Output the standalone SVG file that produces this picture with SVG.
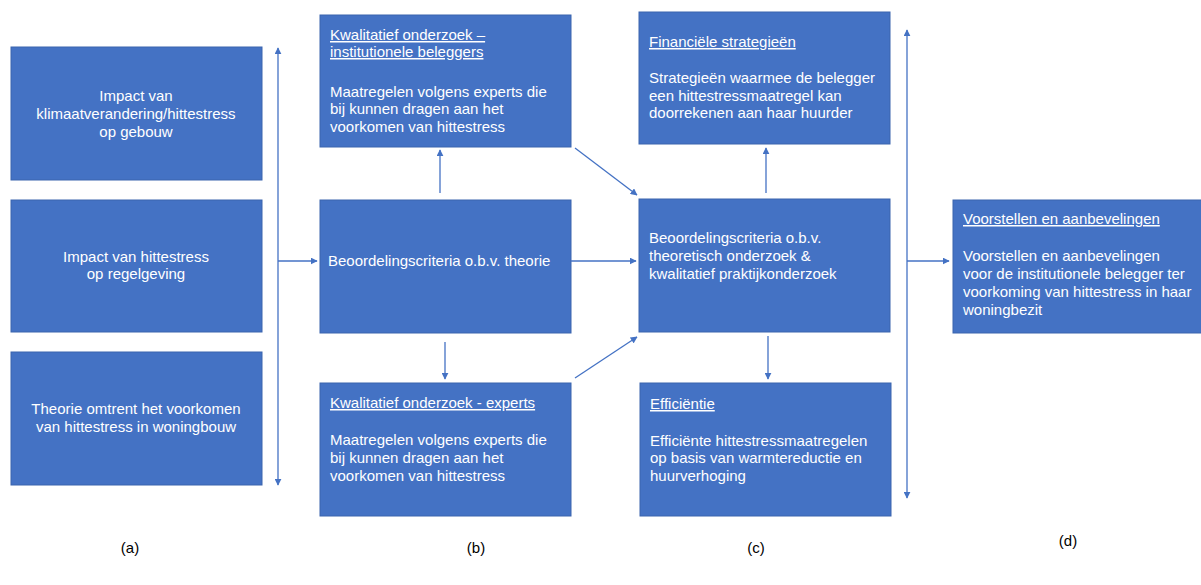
<svg xmlns="http://www.w3.org/2000/svg" width="1201" height="585" viewBox="0 0 1201 585">
<style>
.box{fill:#4472C4;stroke:#3A64AE;stroke-width:1}
.t{font-family:"Liberation Sans",Arial,sans-serif;font-size:15px;fill:#ffffff}
.c{text-anchor:middle}
.u{text-decoration:underline}
.ln{stroke:#4472C4;stroke-width:1.3;fill:none}
.lab{font-family:"Liberation Sans",Arial,sans-serif;font-size:15px;fill:#000000;text-anchor:middle}
</style>
<defs>
<marker id="ah" viewBox="0 0 10 10" refX="9" refY="5" markerWidth="7" markerHeight="7" orient="auto-start-reverse" markerUnits="userSpaceOnUse">
<path d="M0,0 L10,5 L0,10 z" fill="#4472C4"/>
</marker>
</defs>
<rect width="1201" height="585" fill="#ffffff"/>
<g id="a1">
<rect class="box" x="11" y="47" width="251" height="133"/>
<text class="t c" x="136" y="101">Impact van</text>
<text class="t c" x="136" y="119">klimaatverandering/hittestress</text>
<text class="t c" x="136" y="137">op gebouw</text>
</g>
<g id="a2">
<rect class="box" x="11" y="200" width="251" height="132"/>
<text class="t c" x="136" y="262">Impact van hittestress</text>
<text class="t c" x="136" y="279">op regelgeving</text>
</g>
<g id="a3">
<rect class="box" x="11" y="352" width="251" height="133"/>
<text class="t c" x="136" y="414">Theorie omtrent het voorkomen</text>
<text class="t c" x="136" y="432">van hittestress in woningbouw</text>
</g>
<g id="b1">
<rect class="box" x="320" y="15" width="251" height="132"/>
<text class="t u" x="330" y="40">Kwalitatief onderzoek –</text>
<text class="t u" x="330" y="57">institutionele beleggers</text>
<text class="t" x="330" y="97">Maatregelen volgens experts die</text>
<text class="t" x="330" y="114">bij kunnen dragen aan het</text>
<text class="t" x="330" y="132">voorkomen van hittestress</text>
</g>
<g id="b2">
<rect class="box" x="320" y="200" width="251" height="133"/>
<text class="t" x="328" y="266">Beoordelingscriteria o.b.v. theorie</text>
</g>
<g id="b3">
<rect class="box" x="320" y="383" width="251" height="133"/>
<text class="t u" x="330" y="408">Kwalitatief onderzoek - experts</text>
<text class="t" x="330" y="445">Maatregelen volgens experts die</text>
<text class="t" x="330" y="463">bij kunnen dragen aan het</text>
<text class="t" x="330" y="481">voorkomen van hittestress</text>
</g>
<g id="c1">
<rect class="box" x="639" y="12" width="251" height="132"/>
<text class="t u" x="649" y="47">Financiële strategieën</text>
<text class="t" x="649" y="83">Strategieën waarmee de belegger</text>
<text class="t" x="649" y="101">een hittestressmaatregel kan</text>
<text class="t" x="649" y="118">doorrekenen aan haar huurder</text>
</g>
<g id="c2">
<rect class="box" x="639" y="199" width="251" height="133"/>
<text class="t" x="649" y="243">Beoordelingscriteria o.b.v.</text>
<text class="t" x="649" y="261">theoretisch onderzoek &amp;</text>
<text class="t" x="649" y="279">kwalitatief praktijkonderzoek</text>
</g>
<g id="c3">
<rect class="box" x="640" y="383" width="251" height="133"/>
<text class="t u" x="650" y="409">Efficiëntie</text>
<text class="t" x="650" y="446">Efficiënte hittestressmaatregelen</text>
<text class="t" x="650" y="463">op basis van warmtereductie en</text>
<text class="t" x="650" y="481">huurverhoging</text>
</g>
<g id="d1">
<rect class="box" x="953" y="200" width="251" height="133"/>
<text class="t u" x="963" y="224">Voorstellen en aanbevelingen</text>
<text class="t" x="963" y="261">Voorstellen en aanbevelingen</text>
<text class="t" x="963" y="279">voor de institutionele belegger ter</text>
<text class="t" x="963" y="297">voorkoming van hittestress in haar</text>
<text class="t" x="963" y="315">woningbezit</text>
</g>
<g id="connectors">
<line class="ln" x1="278" y1="48" x2="278" y2="485" marker-start="url(#ah)" marker-end="url(#ah)"/>
<line class="ln" x1="278" y1="261" x2="317" y2="261" marker-end="url(#ah)"/>
<line class="ln" x1="440" y1="193" x2="440" y2="150" marker-end="url(#ah)"/>
<line class="ln" x1="445" y1="342" x2="445" y2="379" marker-end="url(#ah)"/>
<line class="ln" x1="575" y1="148" x2="637" y2="195" marker-end="url(#ah)"/>
<line class="ln" x1="575" y1="378" x2="637" y2="337" marker-end="url(#ah)"/>
<line class="ln" x1="571" y1="261" x2="636" y2="261" marker-end="url(#ah)"/>
<line class="ln" x1="766" y1="193" x2="766" y2="148" marker-end="url(#ah)"/>
<line class="ln" x1="768" y1="336" x2="768" y2="379" marker-end="url(#ah)"/>
<line class="ln" x1="907" y1="30" x2="907" y2="498" marker-start="url(#ah)" marker-end="url(#ah)"/>
<line class="ln" x1="907" y1="261" x2="949" y2="261" marker-end="url(#ah)"/>
</g>
<g id="labels">
<text class="lab" x="130" y="553">(a)</text>
<text class="lab" x="476" y="553">(b)</text>
<text class="lab" x="756" y="553">(c)</text>
<text class="lab" x="1068" y="546">(d)</text>
</g>
</svg>
